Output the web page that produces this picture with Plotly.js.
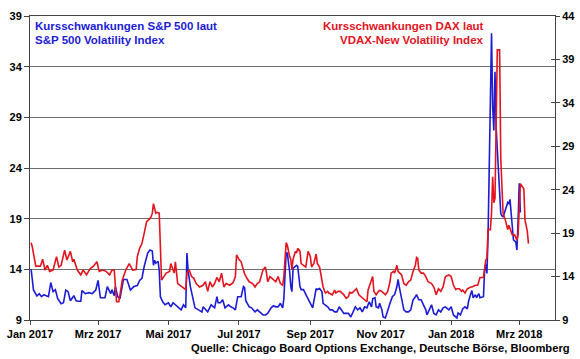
<!DOCTYPE html>
<html><head><meta charset="utf-8">
<script src="https://cdn.plot.ly/plotly-3.0.1.min.js"></script>
<style>html,body{margin:0;padding:0;background:#fff;}#chart{width:580px;height:359px;}</style>
</head><body><div id="chart"></div>
<script>
// Day offsets counted from 2017-01-01
const vixDays = [1,3,6,8,10,12,16,18,20,22,24,27,29,31,33,35,38,40,42,44,45,48,51,54,57,59,61,65,67,70,71,73,74,76,78,81,84,87,90,93,95,97,99,102,104,106,107,108,109,111,112,113,115,117,120,122,124,126,128,131,133,135,136,137,139,141,143,146,149,150,152,154,157,160,162,163,165,167,169,172,174,176,178,180,183,185,186,187,190,192,195,197,199,202,204,206,209,211,213,215,217,219,220,222,223,225,226,227,228,230,231,232,234,235,237,240,242,244,245,248,249,251,253,254,256,258,260,262,264,266,268,270,272,274,276,278,280,282,284,286,288,290,292,294,296,297,299,300,302,303,305,306,308,310,312,314,316,318,319,320,322,324,326,328,330,332,334,335,337,339,341,343,344,346,348,350,352,354,356,358,360,363,365,367,370,371,373,375,377,379,380,382,383,384,386,387,389,390,393,394,395,396,397,400,401,402,403,404,407,408,409,410,411,414,415,416,418,419,421,422,423,424,425];
const vixValues = [14.0,11.96,11.37,11.6,11.3,11.5,11.3,12.7,11.8,12.0,11.1,10.6,10.7,11.96,11.8,10.9,11.4,10.9,10.85,10.85,11.9,11.6,11.7,11.6,11.96,12.9,11.2,11.2,12.3,11.6,12.0,11.4,12.3,11.3,11.1,13.0,13.0,11.96,12.3,12.4,12.9,13.1,14.3,15.6,15.9,15.8,14.4,14.9,14.6,14.8,13.9,11.3,10.8,10.5,10.7,10.3,10.7,10.5,10.3,10.0,10.5,10.2,15.6,13.9,12.3,11.3,10.2,10.0,9.8,10.3,10.0,9.8,10.5,10.2,11.3,10.7,10.7,11.0,10.2,10.5,10.3,10.2,10.0,11.3,11.3,12.3,12.2,10.9,10.3,10.2,9.8,10.0,9.8,9.5,9.5,9.65,10.2,10.4,10.3,10.3,10.65,10.2,11.1,15.6,15.6,13.8,12.3,11.8,14.1,14.3,14.4,14.3,12.3,12.0,12.0,11.3,10.9,10.5,10.2,12.1,12.0,12.1,11.8,10.65,10.5,10.3,10.0,10.0,9.8,9.8,10.3,10.0,9.65,9.65,9.65,9.3,9.8,10.3,10.0,10.2,9.8,10.3,10.2,10.8,10.3,11.1,11.2,10.3,10.2,10.65,10.0,9.3,9.2,10.0,10.65,11.3,11.5,12.3,13.0,12.3,11.1,10.0,9.8,9.8,10.0,11.0,11.3,11.5,11.0,11.0,10.5,10.0,9.5,10.0,10.5,9.65,9.5,10.0,9.8,10.2,10.3,10.0,10.3,9.5,9.2,9.7,9.5,10.1,10.3,10.1,10.8,11.6,11.9,11.2,11.5,11.2,11.6,11.2,11.3,13.9,14.5,13.6,17.4,37.3,30.0,27.7,33.5,28.0,21.0,19.5,19.3,19.2,19.5,20.6,20.5,20.9,18.2,16.9,16.7,15.9,18.8,22.5,19.6];

const vdaxDays = [1,2,5,9,11,13,15,17,20,23,25,27,30,32,35,37,38,41,44,46,49,52,55,58,60,63,66,69,71,73,75,77,80,83,86,89,92,93,95,97,99,101,104,105,106,107,109,110,112,113,114,116,118,121,122,125,126,128,130,133,135,136,138,140,142,144,147,150,152,154,156,158,160,162,164,166,168,170,173,176,178,179,181,183,184,186,188,190,193,195,197,199,202,204,205,206,208,211,213,215,217,219,220,222,223,225,226,227,228,230,231,232,234,235,237,239,241,243,244,246,248,249,251,253,254,256,258,259,262,264,265,267,269,272,274,276,277,279,282,283,285,288,290,292,293,296,297,298,300,302,303,305,308,310,312,313,315,316,318,319,322,324,326,328,330,332,334,335,336,337,339,341,343,345,348,350,352,354,356,358,360,363,365,367,369,370,372,374,375,377,379,382,383,386,388,390,392,393,395,396,397,399,400,401,402,403,405,407,408,409,410,412,414,415,416,418,420,422,423,424,425,428,429,430,431,432];
const vdaxValues = [17.9,17.4,15.2,15.2,16.0,14.75,15.3,14.6,14.75,16.3,15.1,15.3,17.05,15.9,16.9,15.7,16.0,14.75,14.2,14.75,14.2,14.9,15.2,15.7,14.6,14.75,14.6,14.2,14.75,14.75,11.1,11.1,13.6,14.75,15.5,14.75,14.8,16.3,17.25,17.8,19.0,20.3,20.7,20.9,21.3,22.4,21.3,21.4,21.3,18.2,13.6,14.0,14.4,14.6,15.5,14.4,15.7,13.2,13.0,12.8,12.5,14.4,14.75,14.0,13.8,13.2,12.8,13.0,13.4,12.3,13.4,12.8,13.2,13.9,13.4,14.4,12.8,13.2,13.0,13.3,14.0,16.5,16.0,15.7,15.3,14.3,13.8,13.4,13.2,12.8,13.2,13.4,14.8,15.1,14.4,13.4,14.0,13.6,13.4,14.0,13.2,13.0,14.0,17.9,17.6,16.3,16.0,14.8,16.0,16.9,16.7,17.25,16.9,15.5,15.3,15.1,16.9,16.3,15.1,15.5,16.6,15.5,15.1,13.6,12.8,12.1,12.3,12.1,11.9,12.45,12.1,12.3,12.3,11.9,11.5,11.7,12.2,12.1,12.45,12.6,11.9,11.6,11.3,11.1,12.45,13.6,14.0,12.3,11.9,12.3,12.4,12.3,11.9,12.3,13.4,14.4,14.6,14.4,15.3,14.6,14.2,13.2,13.0,13.4,13.6,14.6,15.3,16.2,16.1,14.75,14.4,14.4,14.0,13.4,13.2,12.8,11.9,12.6,12.3,12.8,14.0,14.2,14.0,13.0,12.5,12.6,12.6,12.3,12.45,12.1,12.6,12.8,12.8,13.0,13.0,13.9,13.9,13.9,15.9,16.1,19.4,19.4,21.3,25.5,22.5,23.0,40.1,40.1,27.6,24.0,21.3,20.5,19.4,19.9,19.6,18.8,18.8,18.2,18.8,21.6,24.7,24.1,20.5,19.9,19.2,17.8];

const xTickDates = ['2017-01-01','2017-03-01','2017-05-01','2017-07-01','2017-09-01','2017-11-01','2018-01-01','2018-03-01'];
const xTickLabels = ['Jan 2017','Mrz 2017','Mai 2017','Jul 2017','Sep 2017','Nov 2017','Jan 2018','Mrz 2018'];
const leftTicks = [9,14,19,24,29,34,39];
const rightTicks = [9,14,19,24,29,34,39,44];
const vixLabel = ['Kursschwankungen S&P 500 laut','S&P 500 Volatility Index'];
const vdaxLabel = ['Kursschwankungen DAX laut','VDAX-New Volatility Index'];
const sourceText = 'Quelle: Chicago Board Options Exchange, Deutsche Börse, Bloomberg';

function toDate(d){ return new Date(Date.UTC(2017,0,1) + d*86400000).toISOString().slice(0,10); }
const bold = s => '<b>' + s + '</b>';

const BLUE = '#1c1cd6', RED = '#e3141e';
const FONT = 'Liberation Sans, Arial, sans-serif';
const tf = {family: FONT, size: 11, color: '#000'};

const traces = [
  {x: vixDays.map(toDate), y: vixValues, type: 'scatter', mode: 'lines', yaxis: 'y',
   line: {color: BLUE, width: 1.6}, hoverinfo: 'skip', showlegend: false},
  {x: vdaxDays.map(toDate), y: vdaxValues, type: 'scatter', mode: 'lines', yaxis: 'y2',
   line: {color: RED, width: 1.6}, hoverinfo: 'skip', showlegend: false},
  {x: [], y: [], type: 'scatter', yaxis: 'y3', showlegend: false, hoverinfo: 'skip'}
];

const layout = {
  width: 580, height: 359,
  margin: {l: 30, r: 25, t: 16, b: 39},
  paper_bgcolor: '#fff', plot_bgcolor: '#fff',
  showlegend: false,
  xaxis: {type: 'date', range: ['2017-01-01', '2018-04-01'],
    tickvals: xTickDates, ticktext: xTickLabels.map(bold), tickfont: tf,
    ticks: 'outside', ticklen: 4, tickcolor: '#444', showgrid: false,
    showline: true, linecolor: '#444', linewidth: 1, mirror: true, zeroline: false},
  yaxis: {range: [9, 39], tickvals: leftTicks, ticktext: leftTicks.map(v => bold(v)), tickfont: tf,
    ticks: 'outside', ticklen: 5, tickcolor: '#444', showgrid: true, gridcolor: '#6e6e6e', gridwidth: 1,
    showline: true, linecolor: '#444', linewidth: 1, zeroline: false},
  yaxis2: {range: [9, 44], overlaying: 'y', side: 'right', tickvals: rightTicks,
    ticktext: rightTicks.map(v => bold(v)), tickfont: tf,
    ticks: 'outside', ticklen: 4, tickcolor: '#444', showgrid: false,
    showline: true, linecolor: '#444', linewidth: 1, zeroline: false},
  yaxis3: {range: [9, 44], overlaying: 'y', side: 'right', tickvals: rightTicks,
    showticklabels: false, ticks: 'inside', ticklen: 4, tickcolor: '#444',
    showgrid: false, showline: false, zeroline: false},
  annotations: [
    {xref: 'paper', yref: 'paper', x: 0.006, y: 0.967, xanchor: 'left', yanchor: 'middle', showarrow: false,
     text: bold(vixLabel[0]), font: {family: FONT, size: 11.5, color: BLUE}},
    {xref: 'paper', yref: 'paper', x: 0.006, y: 0.921, xanchor: 'left', yanchor: 'middle', showarrow: false,
     text: bold(vixLabel[1]), font: {family: FONT, size: 11.5, color: BLUE}},
    {xref: 'paper', yref: 'paper', x: 0.8686, y: 0.967, xanchor: 'right', yanchor: 'middle', showarrow: false,
     text: bold(vdaxLabel[0]), font: {family: FONT, size: 11.5, color: RED}},
    {xref: 'paper', yref: 'paper', x: 0.8686, y: 0.921, xanchor: 'right', yanchor: 'middle', showarrow: false,
     text: bold(vdaxLabel[1]), font: {family: FONT, size: 11.5, color: RED}},
    {xref: 'paper', yref: 'paper', x: 1.0324, y: -0.092, xanchor: 'right', yanchor: 'middle', showarrow: false,
     text: bold(sourceText), font: {family: FONT, size: 11.2, color: '#000'}}
  ]
};

Plotly.newPlot('chart', traces, layout, {staticPlot: true, displayModeBar: false});
</script>
</body></html>
